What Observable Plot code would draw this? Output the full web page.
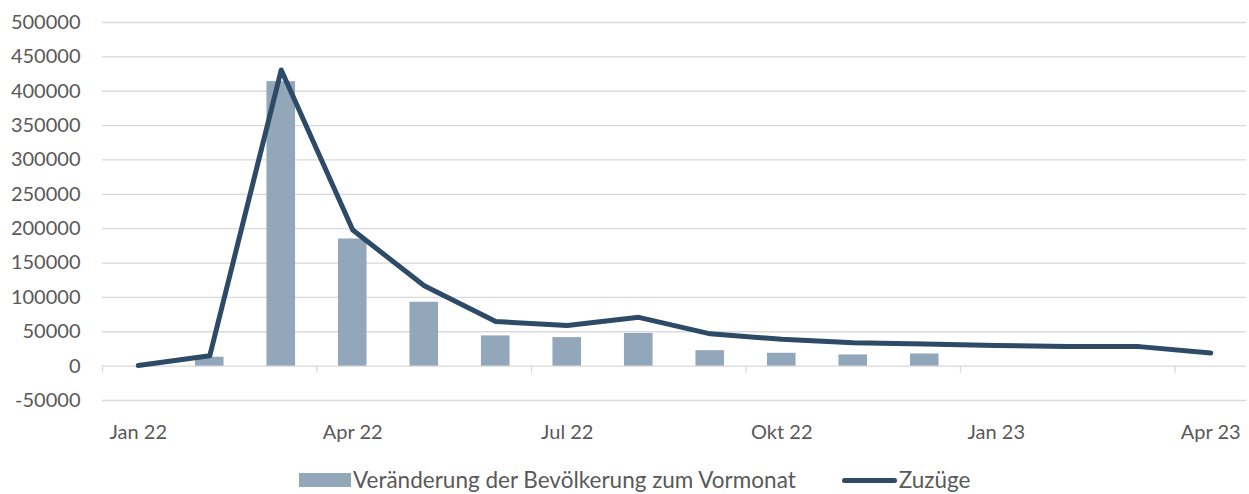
<!DOCTYPE html>
<html>
<head>
<meta charset="utf-8">
<script src="https://cdn.jsdelivr.net/npm/d3@7"></script>
<script src="https://cdn.jsdelivr.net/npm/@observablehq/plot@0.6"></script>
<style>
  html, body { margin: 0; padding: 0; background: #fff; }
  body { width: 1249px; height: 494px; overflow: hidden; font-family: Lato, "Open Sans", sans-serif; }
  #legend { display: flex; justify-content: flex-start; align-items: center; height: 24px; line-height: 24px; font-size: 22.5px; color: #595959; padding-left: 299px; margin-top: -2px; }
  .item { display: flex; align-items: center; }
  .sw-bar { width: 52px; height: 14px; background: #93a7bb; margin-right: 2px; }
  .sw-line { width: 55px; height: 5px; border-radius: 3px; background: #2d4a66; margin-right: 2px; margin-left: 46px; }
</style>
</head>
<body>
<div id="chart"></div>
<div id="legend">
  <div class="item"><span class="sw-bar"></span><span>Veränderung der Bevölkerung zum Vormonat</span></div>
  <div class="item"><span class="sw-line"></span><span>Zuzüge</span></div>
</div>
<script>
const months = ["Jan 22","Feb 22","Mär 22","Apr 22","Mai 22","Jun 22","Jul 22","Aug 22","Sep 22","Okt 22","Nov 22","Dez 22","Jan 23","Feb 23","Mär 23","Apr 23"];
const veraenderung = [null, 13000, 414000, 185000, 93000, 44000, 41500, 47500, 22500, 18700, 16300, 17700, null, null, null, null];
const zuzuege = [1000, 15000, 431000, 198000, 117000, 65000, 59000, 71000, 47000, 39000, 34000, 32300, 30000, 28400, 28400, 19200];
const yTicks = [-50000, 0, 50000, 100000, 150000, 200000, 250000, 300000, 350000, 400000, 450000, 500000];
const xLabelIdx = [0, 3, 6, 9, 12, 15];
const xTickIdx = [-0.5, 2.5, 5.5, 8.5, 11.5, 14.5];

const barData = months.map((m, i) => ({i, m, v: veraenderung[i]})).filter(d => d.v != null);
const lineData = months.map((m, i) => ({i, m, v: zuzuege[i]}));

const chart = Plot.plot({
  width: 1249,
  height: 470,
  marginTop: 22,
  marginBottom: 70,
  marginLeft: 102,
  marginRight: 3,
  style: {fontFamily: "Lato, 'Open Sans', sans-serif", fontSize: "20px", color: "#595959", background: "#fff"},
  x: {type: "linear", domain: [-0.5, 15.5], label: null},
  y: {domain: [-50000, 500000], label: null},
  marks: [
    Plot.ruleY(yTicks, {stroke: "#d9d9d9", strokeWidth: 1.3}),
    Plot.ruleX(xTickIdx, {y1: 0, y2: 0, insetBottom: -7, stroke: "#d9d9d9", strokeWidth: 1.3}),
    Plot.axisY({ticks: yTicks, tickSize: 0, tickPadding: 22, tickFormat: d => String(d), fill: "#595959", fontSize: 20, label: null}),
    Plot.axisX({ticks: xLabelIdx, tickSize: 0, tickPadding: 24, tickFormat: i => months[i], fill: "#595959", fontSize: 20, label: null}),
    Plot.rectY(barData, {x1: d => d.i - 0.2, x2: d => d.i + 0.2, y1: 0, y2: "v", fill: "#93a7bb"}),
    Plot.lineY(lineData, {x: "i", y: "v", stroke: "#2d4a66", strokeWidth: 5, strokeLinecap: "round", strokeLinejoin: "round"})
  ]
});
document.getElementById("chart").appendChild(chart);
</script>
</body>
</html>
